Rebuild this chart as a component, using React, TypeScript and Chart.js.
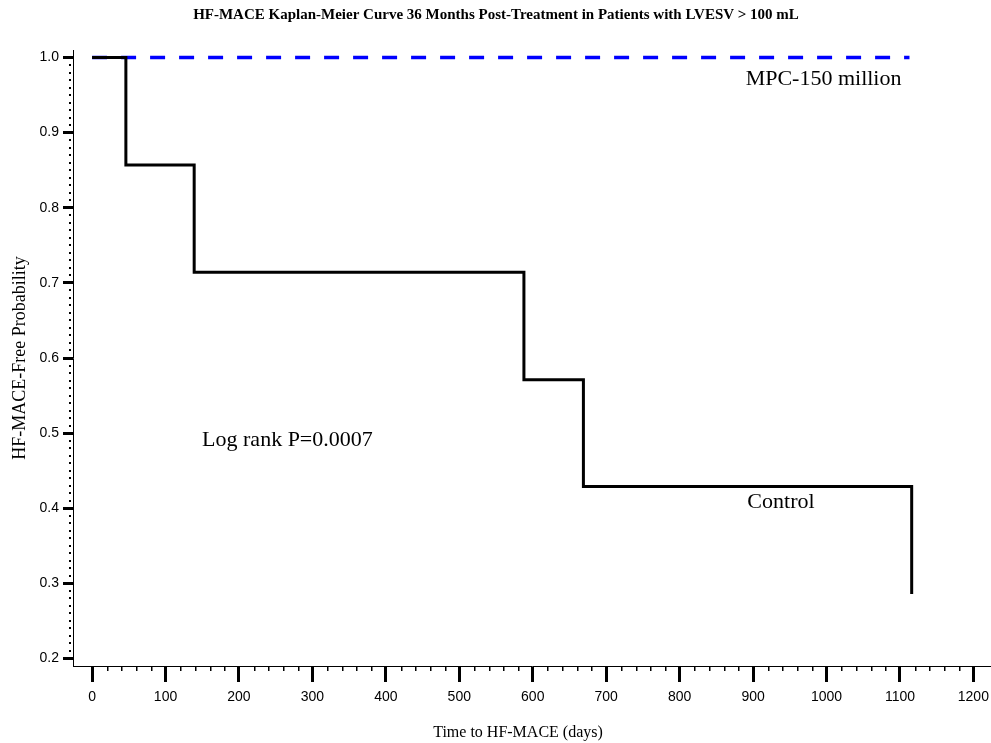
import React, { useEffect, useRef } from 'react';
import { Chart, registerables } from 'chart.js';

Chart.register(...registerables);

const titleText = 'HF-MACE Kaplan-Meier Curve 36 Months Post-Treatment in Patients with LVESV > 100 mL';
const xAxisTitle = 'Time to HF-MACE (days)';
const yAxisTitle = 'HF-MACE-Free Probability';

const controlDays = [0, 46, 139, 588, 669, 1116];
const controlSurvival = [1.0, 0.857, 0.714, 0.571, 0.429, 0.286];
const mpcDays = [0, 1113];
const mpcSurvival = [1.0, 1.0];

const xTicks = [0, 100, 200, 300, 400, 500, 600, 700, 800, 900, 1000, 1100, 1200];
const yTicks = [0.2, 0.3, 0.4, 0.5, 0.6, 0.7, 0.8, 0.9, 1.0];
const xMinorStep = 20;
const yMinorStep = 0.01;

const annotations = [
  { text: 'MPC-150 million', x: 996, y: 0.971 },
  { text: 'Log rank P=0.0007', x: 266, y: 0.491 },
  { text: 'Control', x: 938, y: 0.408 },
];

const decorPlugin = {
  id: 'decor',
  afterDraw(chart: any) {
    const ctx = chart.ctx;
    const xs = chart.scales.x;
    const ys = chart.scales.y;
    const area = chart.chartArea;
    ctx.save();
    ctx.fillStyle = '#000';
    for (let i = 0; i < xTicks.length - 1; i++) {
      for (let v = xTicks[i] + xMinorStep; v < xTicks[i + 1] - 1e-6; v += xMinorStep) {
        const px = Math.round(xs.getPixelForValue(v));
        ctx.fillRect(px, area.bottom + 1, 1.5, 4);
      }
    }
    for (let i = 0; i < yTicks.length - 1; i++) {
      for (let k = 1; k < 10; k++) {
        const v = yTicks[i] + k * yMinorStep;
        const py = Math.round(ys.getPixelForValue(v));
        ctx.fillRect(area.left - 4, py - 1, 2, 2);
      }
    }
    ctx.textAlign = 'center';
    ctx.textBaseline = 'middle';
    ctx.font = 'bold 15px "Liberation Serif"';
    ctx.fillText(titleText, 496, 15);
    ctx.font = '16px "Liberation Serif"';
    ctx.fillText(xAxisTitle, 518, 733);
    ctx.save();
    ctx.translate(20, 358);
    ctx.rotate(-Math.PI / 2);
    ctx.font = '18px "Liberation Serif"';
    ctx.fillText(yAxisTitle, 0, 0);
    ctx.restore();
    ctx.font = '22px "Liberation Serif"';
    for (const a of annotations) {
      ctx.fillText(a.text, xs.getPixelForValue(a.x), ys.getPixelForValue(a.y));
    }
    ctx.restore();
  },
};

export default function App() {
  const ref = useRef<HTMLCanvasElement | null>(null);
  useEffect(() => {
    document.body.style.margin = '0';
    const canvas = ref.current;
    if (!canvas) return;
    const chart = new Chart(canvas, {
      type: 'line',
      data: {
        datasets: [
          {
            label: 'Control',
            data: controlDays.map((d, i) => ({ x: d, y: controlSurvival[i] })),
            borderColor: '#000000',
            borderWidth: 3,
            stepped: true,
            pointRadius: 0,
            fill: false,
          },
          {
            label: 'MPC-150 million',
            data: mpcDays.map((d, i) => ({ x: d, y: mpcSurvival[i] })),
            borderColor: '#0000ff',
            borderWidth: 3.5,
            borderDash: [15, 14],
            pointRadius: 0,
            fill: false,
          },
        ],
      },
      options: {
        animation: false,
        responsive: false,
        layout: { padding: { top: 50, right: 0, left: 0, bottom: 0 } },
        plugins: {
          legend: { display: false },
          tooltip: { enabled: false },
          title: { display: false },
        },
        scales: {
          x: {
            type: 'linear',
            min: -26,
            max: 1224,
            afterBuildTicks: (s: any) => {
              s.ticks = xTicks.map((v) => ({ value: v }));
            },
            afterFit: (s: any) => {
              s.height = 77;
              s.paddingRight = 0;
              s.paddingLeft = 0;
            },
            grid: {
              drawOnChartArea: false,
              drawTicks: true,
              tickLength: 16,
              tickWidth: 3,
              tickColor: '#000',
            },
            border: { display: true, color: '#000', width: 1 },
            ticks: {
              color: '#000',
              font: { family: 'Liberation Sans', size: 14 },
              padding: 7,
              maxRotation: 0,
              autoSkip: false,
              callback: (v: any) => String(v),
            },
          },
          y: {
            type: 'linear',
            min: 0.19,
            max: 1.01,
            afterBuildTicks: (s: any) => {
              s.ticks = yTicks.map((v) => ({ value: v }));
            },
            afterFit: (s: any) => {
              s.width = 73;
              s.paddingTop = 0;
              s.paddingBottom = 0;
            },
            grid: {
              drawOnChartArea: false,
              drawTicks: true,
              tickLength: 10,
              tickWidth: 3,
              tickColor: '#000',
            },
            border: { display: true, color: '#000', width: 1 },
            ticks: {
              color: '#000',
              font: { family: 'Liberation Sans', size: 14 },
              padding: 4,
              autoSkip: false,
              callback: (v: any) => Number(v).toFixed(1),
            },
          },
        },
      },
      plugins: [decorPlugin],
    });
    return () => chart.destroy();
  }, []);
  return (
    <div style={{ width: 991, height: 743 }}>
      <canvas ref={ref} width={991} height={743} style={{ display: 'block' }} />
    </div>
  );
}
